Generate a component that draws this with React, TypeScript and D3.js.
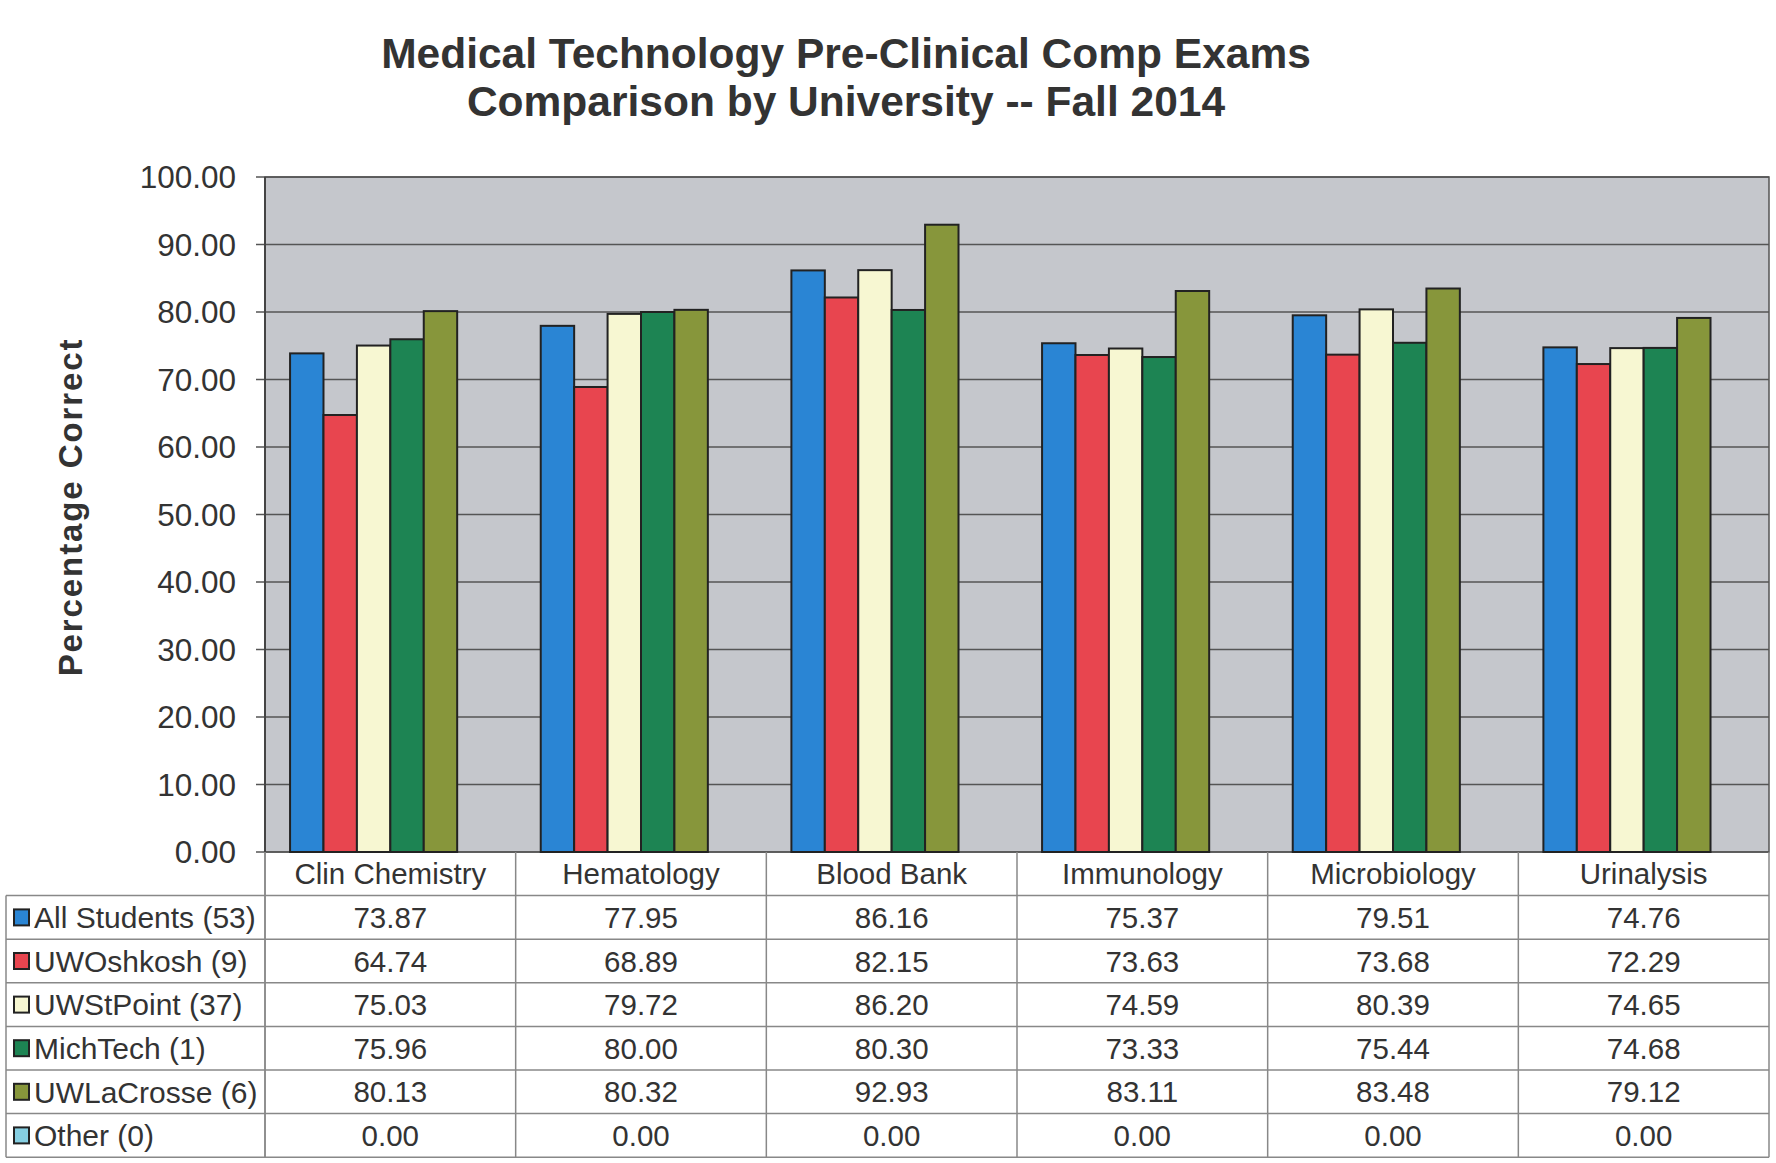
import * as d3 from "d3";

const categories = ["Clin Chemistry", "Hematology", "Blood Bank", "Immunology", "Microbiology", "Urinalysis"];
const seriesNames = ["All Students (53)", "UWOshkosh (9)", "UWStPoint (37)", "MichTech (1)", "UWLaCrosse (6)", "Other (0)"];
const allStudents = [73.87, 77.95, 86.16, 75.37, 79.51, 74.76];
const uwOshkosh = [64.74, 68.89, 82.15, 73.63, 73.68, 72.29];
const uwStPoint = [75.03, 79.72, 86.2, 74.59, 80.39, 74.65];
const michTech = [75.96, 80.0, 80.3, 73.33, 75.44, 74.68];
const uwLaCrosse = [80.13, 80.32, 92.93, 83.11, 83.48, 79.12];
const other = [0, 0, 0, 0, 0, 0];
const colors = ["#2a85d4", "#e8454f", "#f7f7d2", "#1d8453", "#87963b", "#86cfe2"];

const seriesValues = [allStudents, uwOshkosh, uwStPoint, michTech, uwLaCrosse, other];

const W = 1776;
const H = 1163;
const plot = { left: 265, right: 1769, top: 177, bottom: 852 };
const tableLeft = 6;
const rowH = 43.6;
const font = "'Liberation Sans', Arial, sans-serif";
const ink = "#333";

export default function App() {
  const x0 = d3.scaleBand<string>().domain(categories).range([plot.left, plot.right]);
  const x1 = d3
    .scaleBand<string>()
    .domain(seriesNames)
    .range([0, x0.bandwidth()])
    .paddingInner(0)
    .paddingOuter(0.75);
  const y = d3.scaleLinear().domain([0, 100]).range([plot.bottom, plot.top]);
  const yTicks = y.ticks(10);
  const fmt = d3.format(".2f");

  const headerTop = plot.bottom;
  const rowsTop = headerTop + rowH;
  const tableBottom = rowsTop + rowH * seriesNames.length;

  return (
    <svg width={W} height={H} style={{ position: "absolute", left: 0, top: 0, background: "#fff" }}>
      {/* title */}
      <g fontFamily={font} fontWeight="bold" fontSize={42.5} fill={ink} textAnchor="middle">
        <text x={846} y={68}>Medical Technology Pre-Clinical Comp Exams</text>
        <text x={846} y={116}>Comparison by University -- Fall 2014</text>
      </g>

      {/* plot area */}
      <rect
        x={plot.left}
        y={plot.top}
        width={plot.right - plot.left}
        height={plot.bottom - plot.top}
        fill="#c5c7cc"
        stroke="#555"
        strokeWidth={1.5}
      />
      {yTicks.map((t) => (
        <g key={t}>
          <line x1={plot.left - 9} x2={plot.right} y1={y(t)} y2={y(t)} stroke="#555" strokeWidth={1.5} />
          <text
            x={236}
            y={y(t)}
            dy="0.36em"
            textAnchor="end"
            fontFamily={font}
            fontSize={31.5}
            fill={ink}
          >
            {fmt(t)}
          </text>
        </g>
      ))}
      <line x1={plot.left} x2={plot.left} y1={plot.top} y2={plot.bottom} stroke="#444" strokeWidth={2} />

      {/* bars */}
      {categories.map((c, ci) => (
        <g key={c} transform={`translate(${x0(c)},0)`}>
          {seriesNames.map((s, si) => {
            const v = seriesValues[si][ci];
            if (v <= 0) return null;
            return (
              <rect
                key={s}
                x={x1(s)}
                y={y(v)}
                width={x1.bandwidth()}
                height={y(0) - y(v)}
                fill={colors[si]}
                stroke="#222"
                strokeWidth={2}
              />
            );
          })}
        </g>
      ))}

      {/* y axis title */}
      <text
        transform={`translate(70,507) rotate(-90)`}
        textAnchor="middle"
        dy="0.36em"
        fontFamily={font}
        fontWeight="bold"
        fontSize={33}
        letterSpacing={1.9}
        fill={ink}
      >
        Percentage Correct
      </text>

      {/* data table */}
      <g stroke="#888" strokeWidth={1.5}>
        <line x1={plot.right} x2={plot.right} y1={headerTop} y2={tableBottom} />
        <line x1={plot.left} x2={plot.left} y1={headerTop} y2={tableBottom} />
        <line x1={tableLeft} x2={tableLeft} y1={rowsTop} y2={tableBottom} />
        {categories.map((c) => (
          <line key={c} x1={x0(c)} x2={x0(c)} y1={headerTop} y2={tableBottom} />
        ))}
        {d3.range(seriesNames.length + 1).map((i) => (
          <line key={i} x1={tableLeft} x2={plot.right} y1={rowsTop + i * rowH} y2={rowsTop + i * rowH} />
        ))}
      </g>
      <g fontFamily={font} fontSize={29.5} fill={ink} textAnchor="middle">
        {categories.map((c) => (
          <text key={c} x={(x0(c) as number) + x0.bandwidth() / 2} y={headerTop + rowH / 2} dy="0.36em">
            {c}
          </text>
        ))}
        {seriesNames.map((s, si) =>
          categories.map((c, ci) => (
            <text
              key={s + c}
              x={(x0(c) as number) + x0.bandwidth() / 2}
              y={rowsTop + si * rowH + rowH / 2}
              dy="0.36em"
            >
              {fmt(seriesValues[si][ci])}
            </text>
          ))
        )}
      </g>
      {seriesNames.map((s, si) => (
        <g key={s} transform={`translate(0,${rowsTop + si * rowH + rowH / 2})`}>
          <rect x={14} y={-8} width={15} height={16} fill={colors[si]} stroke="#222" strokeWidth={2} />
          <text x={34} dy="0.36em" fontFamily={font} fontSize={30} fill={ink}>
            {s}
          </text>
        </g>
      ))}
    </svg>
  );
}
